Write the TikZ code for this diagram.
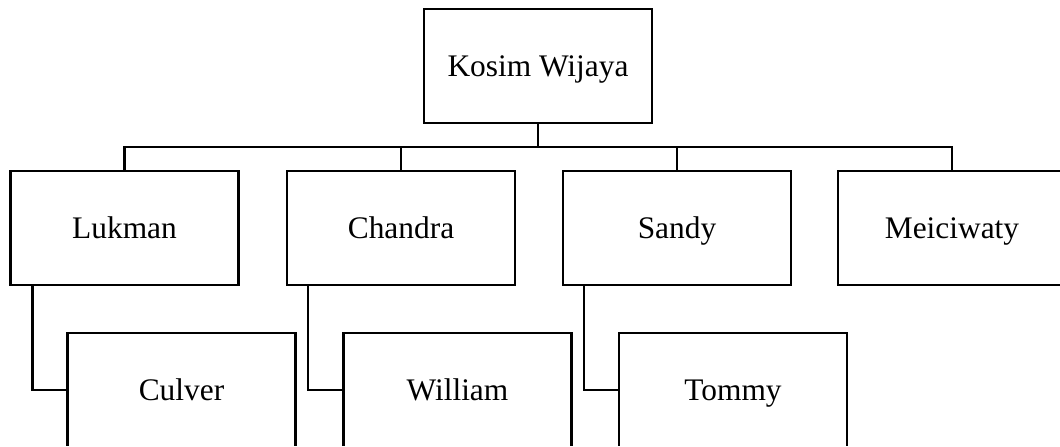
\documentclass[tikz,border=0pt]{standalone}
\usepackage{fontspec}
\setmainfont{Liberation Serif}
\usepackage{tikz}
\tikzset{
  person/.style={
    draw,
    line width=1.1pt,
    align=center,
    minimum width=114pt,
    minimum height=57pt,
    inner sep=0pt,
    text height=10pt,
    text depth=0pt,
    font=\fontsize{15.7}{19}\selectfont
  },
  link/.style={draw, line width=1.1pt}
}

\begin{document}
\begin{tikzpicture}[x=0.5pt,y=0.5pt]
  \useasboundingbox (0,0) rectangle (1060,-446);
  \clip (0,0) rectangle (1060,-445);

  \node[person] (kosim) at (538,-66) {Kosim Wijaya};

  \node[person] (lukman) at (124.5,-228) {Lukman};
  \node[person] (chandra) at (401,-228) {Chandra};
  \node[person] (sandy) at (677,-228) {Sandy};
  \node[person] (meiciwaty) at (952,-228) {Meiciwaty};

  \node[person] (culver) at (181.5,-390) {Culver};
  \node[person] (william) at (457.5,-390) {William};
  \node[person] (tommy) at (733,-390) {Tommy};

  \coordinate (bus) at (538,-147);

  \draw[link] (kosim.south) -- (bus);
  \draw[link] (lukman.north) |- (bus) -| (meiciwaty.north);
  \draw[link] (chandra.north) -- (chandra.north |- bus);
  \draw[link] (sandy.north) -- (sandy.north |- bus);

  \draw[link] (lukman.south west) ++(23,0) |- (culver.west);
  \draw[link] (chandra.south west) ++(22,0) |- (william.west);
  \draw[link] (sandy.south west) ++(22,0) |- (tommy.west);
\end{tikzpicture}
\end{document}
